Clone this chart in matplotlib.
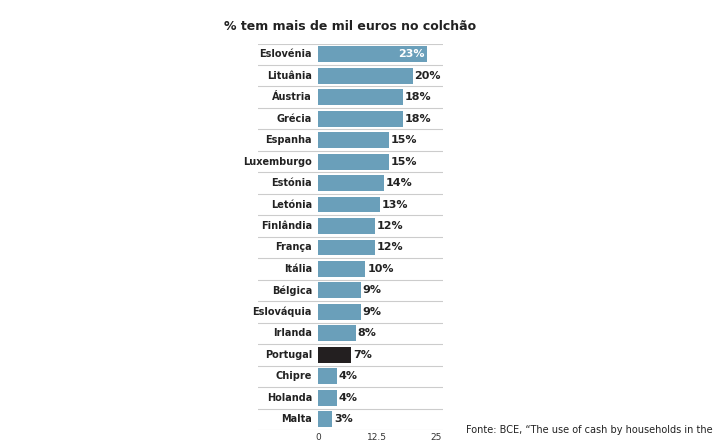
import matplotlib.pyplot as plt

countries = ["Eslovénia", "Lituânia", "Áustria", "Grécia", "Espanha", "Luxemburgo",
             "Estónia", "Letónia", "Finlândia", "França", "Itália", "Bélgica",
             "Eslováquia", "Irlanda", "Portugal", "Chipre", "Holanda", "Malta"]
values = [23, 20, 18, 18, 15, 15, 14, 13, 12, 12, 10, 9, 9, 8, 7, 4, 4, 3]

blue = "#6a9fba"
colors = ["#231f20" if c == "Portugal" else blue for c in countries]

fig = plt.figure(figsize=(7.15, 4.45), dpi=100)
ax = fig.add_axes([0.361, 0.0337, 0.259, 0.8685])
y = list(range(len(countries)))
ax.barh(y, values, height=0.74, color=colors)
ax.set_xlim(-12.7, 26.5)
ax.set_ylim(len(countries) - 0.5, -0.5)

for i in range(len(countries) + 1):
    ax.axhline(i - 0.5, color="#cccccc", lw=0.8, zorder=0)

for i, (c, v) in enumerate(zip(countries, values)):
    ax.text(-1.3, i, c, ha="right", va="center", fontsize=7, fontweight="bold", color="#222222")
    if v == max(values):
        ax.text(v - 0.4, i, f"{v}%", ha="right", va="center", fontsize=8, fontweight="bold", color="white")
    else:
        ax.text(v + 0.4, i, f"{v}%", ha="left", va="center", fontsize=8, fontweight="bold", color="#222222")

ax.set_yticks([])
ax.set_xticks([0, 12.5, 25])
ax.set_xticklabels(["0", "12.5", "25"], fontsize=6.5, color="#333333")
ax.tick_params(axis="x", length=0, pad=2)
for s in ax.spines.values():
    s.set_visible(False)

fig.text(0.49, 0.94, "% tem mais de mil euros no colchão", ha="center", va="center",
         fontsize=9, fontweight="bold", color="#222222")
fig.text(0.652, 0.034, "Fonte: BCE, \u201cThe use of cash by households in the euro",
         ha="left", va="center", fontsize=7, color="#222222")

fig.savefig("out.png", dpi=100)
